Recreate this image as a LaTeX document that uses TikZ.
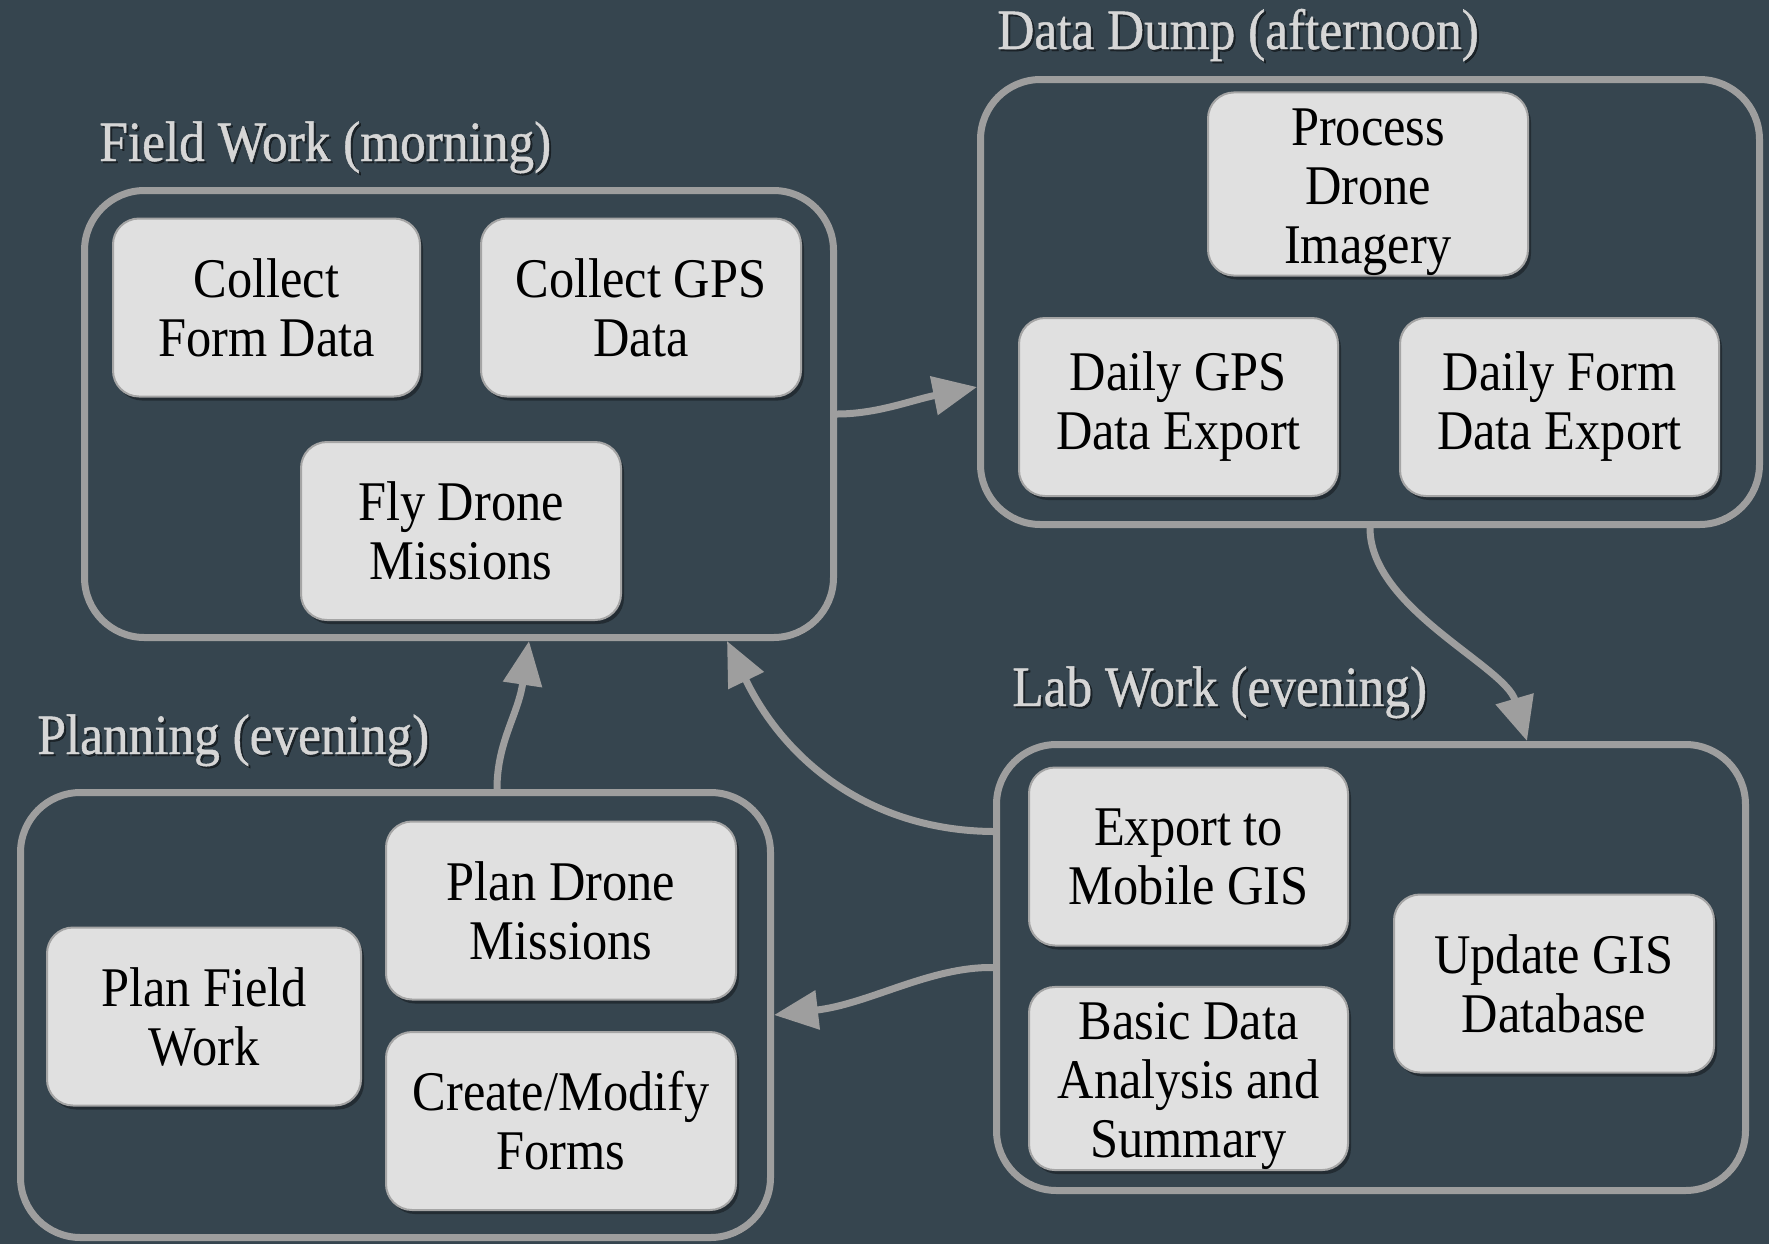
\documentclass[tikz,border=0pt]{standalone}
\usepackage{fontspec}
\setmainfont{Liberation Serif}[FakeStretch=0.9]
\newfontfamily\titlefam{Liberation Serif}[FakeStretch=0.9, FakeBold=0.8]
\usetikzlibrary{arrows.meta,shadows}
\definecolor{bg}{RGB}{54,69,79}
\definecolor{cborder}{RGB}{158,158,158}
\definecolor{tfill}{RGB}{224,224,224}
\definecolor{tborder}{RGB}{165,165,165}
\definecolor{titlecol}{RGB}{214,214,214}
\newcommand{\boxfont}{\fontsize{28pt}{29.5pt}\selectfont}
\newcommand{\ttlfont}{\titlefam\fontsize{28.5pt}{30pt}\selectfont}
\newcommand{\topstrut}{\rule{0pt}{26.5pt}}
\tikzset{
  container/.style={draw=cborder, line width=3.5pt, rounded corners=30pt, inner sep=0pt, fill=bg,
    drop shadow={shadow xshift=1pt, shadow yshift=-1.5pt, opacity=0.3, fill=black}},
  task/.style={draw=tborder, line width=1pt, fill=tfill, rounded corners=13pt, align=center,
    minimum height=89pt, inner sep=0pt, font=\boxfont, text=black,
    drop shadow={shadow xshift=1.5pt, shadow yshift=-2pt, opacity=0.35, fill=black}},
  flow/.style={draw=cborder, line width=3.5pt, -{Triangle[length=22pt,width=19pt]}},
  titletext/.style={text=titlecol, anchor=base west, inner sep=0pt, font=\ttlfont},
  titleshadow/.style={text=black, opacity=0.45, anchor=base west, inner sep=0pt, font=\ttlfont}
}
\begin{document}
\begin{tikzpicture}[x=0.5pt,y=-0.5pt]
\fill[bg] (0,0) rectangle (1769,1244);
\useasboundingbox (0,0) rectangle (1769,1244);

% containers
\node[container, minimum width=374.5pt, minimum height=223.5pt] (field) at (459,414) {};
\node[container, minimum width=389.5pt, minimum height=222.5pt] (dump) at (1370,302) {};
\node[container, minimum width=374.5pt, minimum height=223pt] (lab) at (1371,967.5) {};
\node[container, minimum width=375pt, minimum height=222.5pt] (plan) at (395.5,1015) {};

% titles
\node[titleshadow] (tfieldS) at (101,163) {Field Work (morning)};
\node[titletext] (tfield) at (99,161) {Field Work (morning)};
\node[titleshadow] (tdumpS) at (999,51) {Data Dump (afternoon)};
\node[titletext] (tdump) at (997,49) {Data Dump (afternoon)};
\node[titleshadow] (tlabS) at (1014,708) {Lab Work (evening)};
\node[titletext] (tlab) at (1012,706) {Lab Work (evening)};
\node[titleshadow] (tplanS) at (39,756) {Planning (evening)};
\node[titletext] (tplan) at (37,754) {Planning (evening)};

% field work tasks
\node[task, minimum width=153.5pt] (cfd) at (266.5,307.5) {Collect\\Form Data};
\node[task, minimum width=160pt] (cgps) at (641,307.5) {Collect GPS\\Data};
\node[task, minimum width=160pt] (fly) at (461,531) {Fly Drone\\Missions};

% data dump tasks
\node[task, minimum width=160pt] (pdi) at (1368,184) {\topstrut Process\\Drone\\Imagery};
\node[task, minimum width=159.5pt] (dgps) at (1178.5,407) {Daily GPS\\Data Export};
\node[task, minimum width=159.5pt] (dform) at (1559.5,407) {Daily Form\\Data Export};

% lab work tasks
\node[task, minimum width=159.5pt] (emg) at (1188.5,856.5) {Export to\\Mobile GIS};
\node[task, minimum width=159.5pt] (bda) at (1188.5,1078.5) {\topstrut Basic Data\\Analysis and\\Summary};
\node[task, minimum width=160pt] (ugis) at (1554,983.5) {Update GIS\\Database};

% planning tasks
\node[task, minimum width=157pt] (pfw) at (204,1016.5) {Plan Field\\Work};
\node[task, minimum width=175pt] (pdm) at (561,910.5) {Plan Drone\\Missions};
\node[task, minimum width=175pt] (cmf) at (561,1121) {Create/Modify\\Forms};

% connectors
\draw[flow] (field.east) .. controls +(40,0) and +(-65,13) .. ([yshift=-42.5pt]dump.west);
\draw[flow] (dump.south) .. controls +(0,80) and +(-22,-75) .. ([xshift=78pt]lab.north);
\draw[flow] ([yshift=68pt]lab.west) .. controls +(-123,-1) and +(58,120) .. ([xshift=134pt]field.south);
\draw[flow] (lab.west) .. controls +(-63,-1) and +(95,-11) .. (plan.east);
\draw[flow] ([xshift=50.75pt]plan.north) .. controls +(0,-47) and +(-11,74) .. ([xshift=35pt]field.south);
\end{tikzpicture}
\end{document}
